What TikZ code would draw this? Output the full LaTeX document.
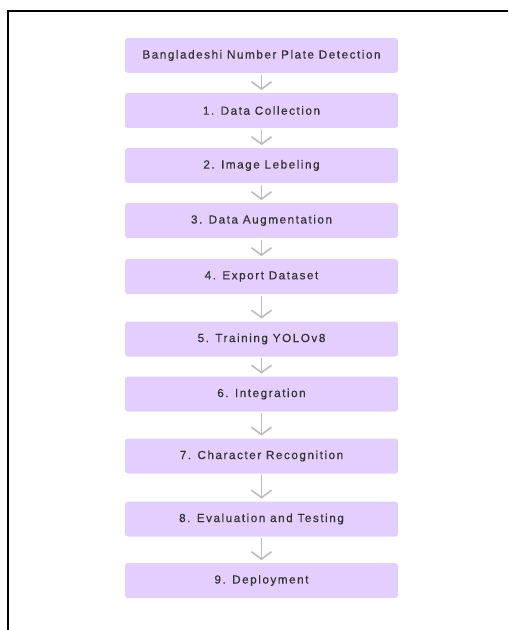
\documentclass[tikz,border=0pt]{standalone}
\usepackage{fontspec}
\usetikzlibrary{arrows.meta}
\newfontfamily\boxfont[LetterSpace=13,FakeBold=0.5]{Liberation Sans}
\definecolor{boxfill}{HTML}{E4CEFD}
\definecolor{boxtext}{HTML}{333333}
\definecolor{arrowgray}{HTML}{BBBBBB}
\tikzset{
  stepbox/.style={fill=boxfill, draw=none, rounded corners=2.2pt,
    minimum width=204.75pt, minimum height=26.25pt, inner sep=0pt,
    font=\boxfont\fontsize{8.8pt}{10pt}\selectfont, text=boxtext},
  flowarrow/.style={draw=arrowgray, line width=1.2pt,
    -{Straight Barb[length=5.5pt,width=15pt]}},
}
\begin{document}
\begin{tikzpicture}[x=0.75pt,y=-0.75pt]
\useasboundingbox (0,0) rectangle (508,630);
\draw[line width=1pt] (8,630) -- (8,11) -- (508,11);
\node[stepbox] (b0) at (261.5,55.5) {Bangladeshi Number Plate Detection};
\node[stepbox] (b1) at (261.5,110.5) {1. Data Collection};
\node[stepbox] (b2) at (261.5,165.5) {2. Image Lebeling};
\node[stepbox] (b3) at (261.5,220.5) {3. Data Augmentation};
\node[stepbox] (b4) at (261.5,276.5) {4. Export Dataset};
\node[stepbox] (b5) at (261.5,339) {5. Training YOLOv8};
\node[stepbox] (b6) at (261.5,394) {6. Integration};
\node[stepbox] (b7) at (261.5,456) {7. Character Recognition};
\node[stepbox] (b8) at (261.5,519) {8. Evaluation and Testing};
\node[stepbox] (b9) at (261.5,580.5) {9. Deployment};
\foreach \a/\b in {b0/b1,b1/b2,b2/b3,b3/b4,b4/b5,b5/b6,b6/b7,b7/b8,b8/b9}
  \draw[flowarrow] ([yshift=-1pt]\a.south) -- ([yshift=2pt]\b.north);
\end{tikzpicture}
\end{document}
